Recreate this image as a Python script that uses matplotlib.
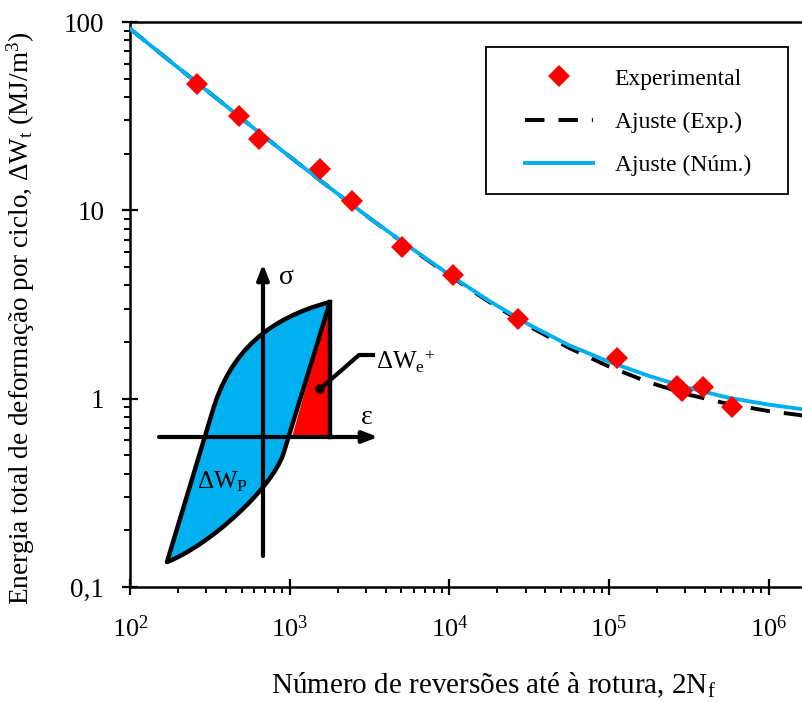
import matplotlib
matplotlib.use("Agg")
import matplotlib.pyplot as plt
from matplotlib.path import Path
from matplotlib.patches import PathPatch, Polygon, Rectangle, Circle
from matplotlib.ticker import FixedLocator, FixedFormatter, NullFormatter, LogLocator

plt.rcParams['font.family'] = ['Liberation Serif', 'DejaVu Serif']
plt.rcParams['mathtext.fontset'] = 'custom'
plt.rcParams['mathtext.rm'] = 'Liberation Serif'
plt.rcParams['mathtext.it'] = 'Liberation Serif:italic'
plt.rcParams['mathtext.bf'] = 'Liberation Serif:bold'
plt.rcParams['mathtext.default'] = 'regular'

# ensaios (2Nf, energia total por ciclo em MJ/m3)
rev_exp = [263, 481, 642, 1549, 2455, 5047, 10520, 26900, 112000, 266000, 286000, 387000, 589000]
energia_exp = [46.8, 31.7, 23.9, 16.6, 11.2, 6.4, 4.53, 2.65, 1.64, 1.17, 1.10, 1.15, 0.90]

# curvas de ajuste lidas a cada quarto de decada
rev_ajuste = [1e2, 1.778e2, 3.162e2, 5.623e2, 1e3, 1.778e3, 3.162e3, 5.623e3, 1e4,
              1.778e4, 3.162e4, 5.623e4, 1e5, 1.778e5, 3.162e5, 5.623e5, 1e6, 1.778e6]
ajuste_exp = [92.0, 62.1, 42.0, 28.4, 19.3, 13.2, 9.1, 6.36, 4.51,
              3.26, 2.42, 1.86, 1.48, 1.22, 1.05, 0.936, 0.859, 0.807]
ajuste_num = [92.0, 62.0, 42.0, 28.4, 19.3, 13.2, 9.1, 6.4, 4.55,
              3.3, 2.47, 1.92, 1.57, 1.32, 1.14, 1.01, 0.93, 0.87]

y_ticks = [0.1, 1, 10, 100]
y_labels = ['0,1', '1', '10', '100']

W, H = 803, 702
fig = plt.figure(figsize=(W / 100, H / 100), dpi=100)
ax = fig.add_axes([130 / W, (H - 587) / H, (W - 130) / W, (587 - 22) / H])

ax.plot(rev_ajuste, ajuste_exp, color='black', lw=2.8, dashes=(5.0, 3.6),
        label='Ajuste (Exp.)', zorder=2)
ax.plot(rev_ajuste, ajuste_num, color='#00B0F0', lw=2.8,
        label='Ajuste (Núm.)', zorder=3)
ax.plot(rev_exp, energia_exp, 'D', color='red', ms=11, mew=0,
        label='Experimental', zorder=4)

ax.set_xscale('log')
ax.set_yscale('log')
ax.set_xlim(1e2, 1.64e6)
ax.set_ylim(0.1, 100)

ax.yaxis.set_major_locator(FixedLocator(y_ticks))
ax.yaxis.set_major_formatter(FixedFormatter(y_labels))
ax.yaxis.set_minor_locator(LogLocator(base=10, subs=range(2, 10)))
ax.yaxis.set_minor_formatter(NullFormatter())
ax.xaxis.set_minor_formatter(NullFormatter())

for side in ['left', 'bottom', 'top']:
    ax.spines[side].set_linewidth(1.8)
ax.spines['right'].set_visible(False)

ax.tick_params(which='major', direction='inout', length=11, width=1.6)
ax.tick_params(which='minor', direction='out', length=4.5, width=1.4)
ax.tick_params(axis='y', which='major', labelsize=19.5, pad=13)
ax.tick_params(axis='x', which='major', labelsize=19, pad=15)

fig.text(21 / W, 1 - 318 / H, 'Energia total de deformação por ciclo, ΔW$_{t}$ (MJ/m$^{3}$)',
         rotation=90, ha='center', va='center', fontsize=19.6)
fig.text(493 / W, 1 - 685 / H, 'Número de reversões até à rotura, 2N$_{f}$',
         ha='center', va='center', fontsize=21)

handles, labels = ax.get_legend_handles_labels()
order = [2, 0, 1]
leg = ax.legend([handles[i] for i in order], [labels[i] for i in order],
                loc='upper left', bbox_to_anchor=(525 / W, 1 - 68 / H),
                bbox_transform=fig.transFigure, frameon=False, fontsize=17,
                handlelength=2.9, handletextpad=0.9, labelspacing=0.92,
                borderpad=0, borderaxespad=0)
fig.patches.append(Rectangle((486 / W, 1 - 194 / H), (788 - 486) / W, (194 - 47) / H,
                             transform=fig.transFigure, fill=False, lw=1.3,
                             edgecolor='black', zorder=5))

# esquema do ciclo de histerese (coordenadas em pixels da figura)
sk = fig.add_axes([0, 0, 1, 1])
sk.set_xlim(0, W)
sk.set_ylim(H, 0)
sk.axis('off')
sk.patch.set_visible(False)

loop = Path(
    [(167, 562), (212, 413), (230, 350), (270, 318), (330, 302),
     (283, 455), (270, 490), (210, 545), (167, 562), (167, 562)],
    [Path.MOVETO, Path.LINETO, Path.CURVE4, Path.CURVE4, Path.CURVE4,
     Path.LINETO, Path.CURVE4, Path.CURVE4, Path.CURVE4, Path.CLOSEPOLY])
sk.add_patch(PathPatch(loop, facecolor='#00B0F0', edgecolor='none', zorder=1))
sk.add_patch(Polygon([(292, 437), (330, 302), (330, 437)], closed=True,
                     facecolor='red', edgecolor='none', zorder=2))
sk.add_patch(PathPatch(loop, facecolor='none', edgecolor='black', lw=3.2,
                       joinstyle='round', zorder=3))
sk.plot([330, 330], [302, 437], color='black', lw=3.2, zorder=3)

arrow = dict(arrowstyle='-|>,head_length=0.9,head_width=0.35', color='black',
             lw=3.0, shrinkA=0, shrinkB=0)
sk.annotate('', xy=(263, 264), xytext=(263, 556), arrowprops=arrow, zorder=4)
sk.annotate('', xy=(378, 437), xytext=(159, 437), arrowprops=arrow, zorder=4)

sk.plot([320, 359, 373], [389, 355, 355], color='black', lw=3.0, zorder=4)
sk.add_patch(Circle((320, 389), 4, color='black', zorder=4))

sk.text(279, 278, 'σ', fontsize=20, ha='left', va='center')
sk.text(361, 418, 'ε', fontsize=20, ha='left', va='center')
sk.text(376, 362, 'ΔW$_{e}$$^{+}$', fontsize=18, ha='left', va='center')
sk.text(197, 482, 'ΔW$_{P}$', fontsize=18, ha='left', va='center')

fig.savefig('out.png', dpi=100)
